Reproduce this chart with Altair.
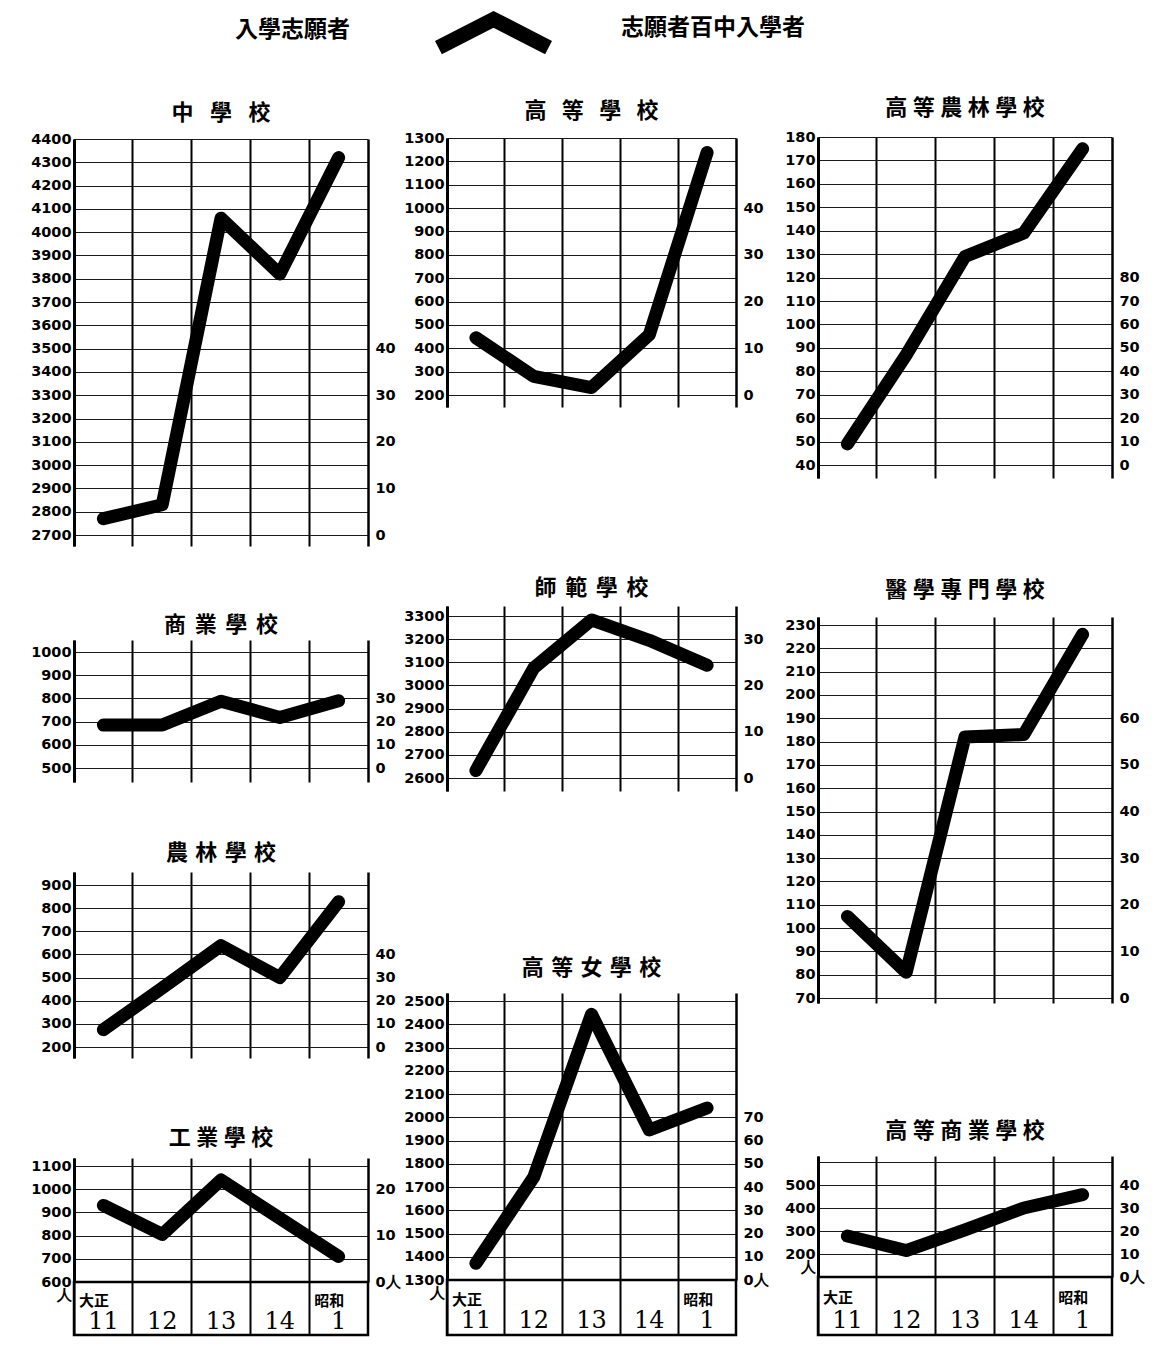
import altair as alt
import pandas as pd

# ---------------- data ----------------
years = ["11", "12", "13", "14", "1"]
era_years = ["11", "1"]
era_names = ["大正", "昭和"]
legend_title = "入學志願者"
series_name = "志願者百中入學者"

titles = ["中\u2002\u2005學\u2002\u2005校", "商\u2004\u200a業\u2004\u200a學\u2004\u200a校",
          "農\u2004林\u2004學\u2004校", "工\u2005業\u2005學\u2005校",
          "高\u2002\u2009等\u2002\u2009學\u2002\u2009校", "師\u2004\u200a範\u2004\u200a學\u2004\u200a校",
          "高\u2004等\u2004女\u2004學\u2004校",
          "高\u2005等\u2005農\u2005林\u2005學\u2005校", "醫\u2005學\u2005專\u2005門\u2005學\u2005校",
          "高\u2005等\u2005商\u2005業\u2005學\u2005校"]

chugakko = [2770, 2830, 4060, 3820, 4320]
shogyo = [685, 685, 788, 718, 790]
norin = [275, 455, 638, 500, 828]
kogyo = [930, 805, 1040, 875, 710]
koto = [445, 280, 232, 458, 1238]
shihan = [2632, 3075, 3283, 3195, 3087]
joshi = [1372, 1742, 2443, 1945, 2040]
koto_norin = [49, 87, 129, 139, 175]
igaku = [105, 81, 182, 183, 226]
koto_shogyo = [278, 215, 305, 400, 458]
series = [chugakko, shogyo, norin, kogyo, koto, shihan, joshi, koto_norin, igaku, koto_shogyo]

# left axis ticks (gridlines) and labelled range
left_lo = [2700, 500, 200, 600, 200, 2600, 1300, 40, 70, 100]
left_hi = [4400, 1000, 900, 1100, 1300, 3300, 2500, 180, 230, 600]
left_step = [100, 100, 100, 100, 100, 100, 100, 10, 10, 100]
label_lo = [2700, 500, 200, 600, 200, 2600, 1300, 40, 70, 200]
label_hi = [4400, 1000, 900, 1100, 1300, 3300, 2500, 180, 230, 500]
# right axis (志願者百中入學者): 0 sits at left_lo, units of left per 10
right_per10 = [200, 100, 100, 200, 200, 200, 100, 10, 20, 100]
right_max = [40, 30, 40, 20, 40, 30, 70, 80, 60, 40]

# ---------------- layout (page pixels) ----------------
grid_top_px = [139, 652, 885, 1166, 138, 616, 1001, 137, 625, 1162]
grid_bot_px = [535, 768, 1047, 1282, 395, 778, 1280, 465, 998, 1277]
plot_top = [139, 640, 872, 1158, 138, 606, 993, 137, 617, 1156]
plot_bot = [546, 782, 1058, 1282, 407, 791, 1280, 478, 1003, 1277]
title_off = [6, 3, 7, 8, 7, 6, 13, 9, 15, 13]
bottom_panel = [False, False, False, True, False, False, True, False, False, True]
columns = [[0, 1, 2, 3], [4, 5, 6], [7, 8, 9]]
col_width = [294, 289, 294]
left_extent = [66, 46, 49]
right_extent = 33
box_bottom = [1335, 1335, 1335]
col_start = 100
origin_x = 74

CJK = "Noto Sans CJK TC"
NUM = "DejaVu Sans"
LAB = 14.5

sym_cx = 493
legend = alt.Legend(
    title=legend_title, orient="none", legendX=235 - origin_x, legendY=5, direction="horizontal",
    titleOrient="left", titleFont=CJK, titleFontSize=23, titleFontWeight="bold", titleColor="black",
    titlePadding=sym_cx - 14.5 - (235 + 115), titleBaseline="line-top", titleLineHeight=34,
    titleAnchor="start",
    labelFont=CJK, labelFontSize=23, labelFontWeight="bold", labelColor="black", labelLimit=400,
    labelOffset=620 - sym_cx - 14.5,
    symbolType="M-7.6,2.7L0,-1.2L7.6,2.7", symbolSize=210, symbolStrokeWidth=15,
    symbolStrokeColor="black", symbolFillColor="transparent", padding=0,
)

xscale = alt.Scale(type="band", domain=years, paddingInner=0, paddingOuter=0)
xaxis = alt.Axis(title=None, labels=False, ticks=False, domain=False, grid=True,
                 gridColor="black", gridWidth=2, bandPosition=0)


def panel(i, width, lext):
    ppu = (grid_bot_px[i] - grid_top_px[i]) / (left_hi[i] - left_lo[i])
    d_hi = left_hi[i] + (grid_top_px[i] - plot_top[i]) / ppu
    d_lo = left_lo[i] - (plot_bot[i] - grid_bot_px[i]) / ppu
    h = plot_bot[i] - plot_top[i]
    ticks = list(range(left_lo[i], left_hi[i] + 1, left_step[i]))
    lab = f"(datum.value >= {label_lo[i]} && datum.value <= {label_hi[i]}) ? datum.label : ''"
    if bottom_panel[i]:
        lab = f"datum.value == {label_lo[i]} ? [datum.label, '人'] : ({lab})"
    df = pd.DataFrame({"year": years, "value": series[i], "series": series_name})
    line = alt.Chart(df).mark_line(strokeWidth=13, strokeCap="round", strokeJoin="round").encode(
        x=alt.X("year:N", sort=years, scale=xscale, bandPosition=0.5, axis=xaxis),
        y=alt.Y("value:Q", scale=alt.Scale(domain=[d_lo, d_hi], nice=False, zero=False),
                axis=alt.Axis(title=None, values=ticks, format="d", grid=True, gridColor="#1a1a1a",
                              gridWidth=1.2, ticks=False, domain=True, domainColor="black", domainWidth=3,
                              labelExpr=lab, labelPadding=3, labelLineHeight=13,
                              minExtent=lext, maxExtent=lext,
                              labelFont=NUM, labelFontSize=LAB, labelFontWeight="bold", labelColor="black")),
        color=alt.Color("series:N", scale=alt.Scale(range=["black"]), legend=legend),
    )
    r0 = left_lo[i]
    r_lo = (d_lo - r0) / right_per10[i] * 10
    r_hi = (d_hi - r0) / right_per10[i] * 10
    rvals = list(range(0, right_max[i] + 1, 10))
    rlab = "datum.value == 0 ? '0人' : datum.label" if bottom_panel[i] else "datum.label"
    right = alt.Chart(pd.DataFrame({"r": rvals})).mark_point(opacity=0, size=0).encode(
        y=alt.Y("r:Q", scale=alt.Scale(domain=[r_lo, r_hi], nice=False, zero=False),
                axis=alt.Axis(orient="right", title=None, values=rvals, format="d", grid=False, ticks=False,
                              domain=True, domainColor="black", domainWidth=2.5, labelPadding=7,
                              minExtent=right_extent, maxExtent=right_extent,
                              labelExpr=rlab, labelFont=NUM, labelFontSize=LAB, labelFontWeight="bold",
                              labelColor="black"))
    )
    return alt.layer(line, right).resolve_scale(y="independent").properties(
        width=width, height=h,
        title=alt.TitleParams(titles[i], offset=title_off[i], frame="group", anchor="middle",
                              font=CJK, fontSize=22, fontWeight="bold", color="black"),
    )


def box(width, h):
    ndf = pd.DataFrame({"year": years, "row": "num", "text": years})
    edf = pd.DataFrame({"year": era_years, "row": "era", "text": era_names})
    yscale = alt.Scale(domain=["era", "num"], paddingInner=0, paddingOuter=0)
    nums = alt.Chart(ndf).mark_text(font="DejaVu Serif", fontSize=24, color="black", dy=0).encode(
        x=alt.X("year:N", sort=years, scale=xscale, axis=xaxis),
        y=alt.Y("row:N", scale=yscale, axis=None),
        text="text:N",
    )
    eras = alt.Chart(edf).mark_text(font=CJK, fontSize=15, fontWeight="bold", color="black",
                                    align="left", dx=5, dy=6).encode(
        x=alt.X("year:N", sort=years, scale=xscale, bandPosition=0, axis=xaxis),
        y=alt.Y("row:N", scale=yscale, axis=None),
        text="text:N",
    )
    return alt.layer(nums, eras).properties(
        width=width, height=h, view=alt.ViewBackground(stroke="black", strokeWidth=2.5))


def spacer(w, h):
    return alt.Chart(pd.DataFrame({"a": [0]})).mark_point(opacity=0, size=0).encode(
        x=alt.value(0), y=alt.value(0)).properties(width=w, height=h)


col_charts = []
for c, idxs in enumerate(columns):
    w = col_width[c]
    items = []
    prev = col_start
    for i in idxs:
        items.append(spacer(w, plot_top[i] - prev))
        items.append(panel(i, w, left_extent[c]))
        prev = plot_bot[i]
    items.append(box(w, box_bottom[c] - prev))
    col_charts.append(alt.vconcat(*items, spacing=0, bounds="flush"))

row = alt.hconcat(*col_charts, spacing=0, bounds="full")
chart = alt.vconcat(spacer(1000, col_start - 8), row, spacing=0, bounds="flush").properties(
    padding=0, background="white"
).configure_view(stroke="transparent", strokeWidth=0)

chart.save("out.html", embed_options={"renderer": "svg", "actions": False})
